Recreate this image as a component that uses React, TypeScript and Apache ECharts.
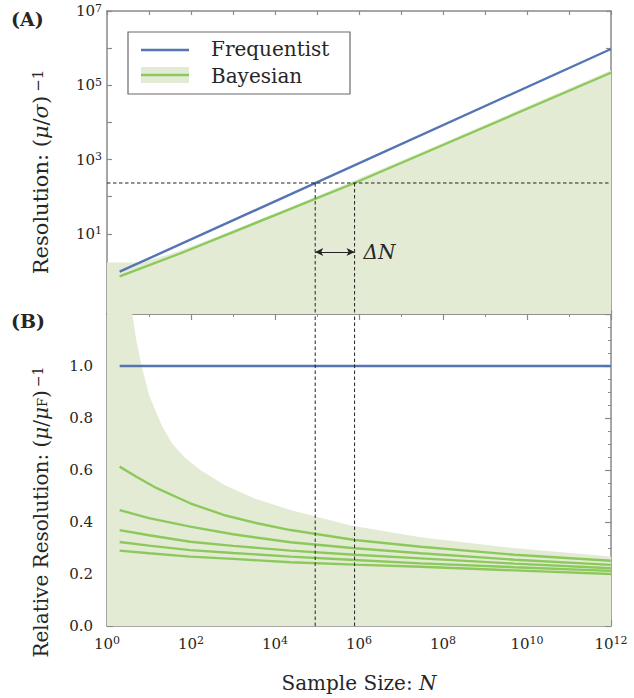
import React, { useEffect, useRef } from 'react';
import * as echarts from 'echarts';

const FONT = 'DejaVu Serif';
const BLUE = '#5474b4';
const GREEN = '#8cc95c';
const FILL = '#e4ebd4';
const FRAME = '#8a8a8a';
const INK = '#262626';

// ---------- data ----------
const xLabelExponents = [0, 2, 4, 6, 8, 10, 12];
const topYLabelExponents = [1, 3, 5, 7];
const topYMin = 0.069;
const topYMax = 1e7;

// Panel A
const freqTopN = [2, 1e12];
const freqTopRes = [0.95, 9.46e5];
const bayesTopN = [2, 55, 7.85e5, 1e12];
const bayesTopRes = [0.71, 2.94, 233, 2.17e5];
const fillTopN = [1, 5, 6.7, 14, 35, 166, 287, 2.33e4, 2.95e7, 1e12];
const fillTopRes = [1.68, 1.68, 1.78, 2.16, 2.92, 5.52, 7.16, 51.8, 1537, 2.53e5];
const thresholdRes = 233;
const crossN = [9.06e4, 7.85e5];
const arrowRes = 3.25;

// Panel B
const freqRelN = [2, 1e12];
const freqRelVal = [1, 1];
const fillRelN = [1, 2, 4.02, 5.01, 6.73, 10, 14.0, 19.95, 35.0, 70.8, 166, 631, 3162, 2.33e4, 6.31e5, 2.95e7, 3.16e9, 1e12];
const fillRelVal = [2.5, 1.7, 1.196, 1.098, 0.997, 0.889, 0.831, 0.773, 0.703, 0.648, 0.6, 0.542, 0.491, 0.446, 0.387, 0.341, 0.303, 0.267];
const bayesRel1N = [2, 5, 15.3, 95.5, 597, 3740, 2.33e4, 7.94e5, 2.95e7, 5.01e9, 1e12];
const bayesRel1 = [0.613, 0.574, 0.53, 0.472, 0.427, 0.395, 0.369, 0.331, 0.305, 0.274, 0.251];
const bayesRelN = [2, 10, 95.5, 1000, 2.33e4, 7.94e5, 2.95e7, 5.01e9, 1e12];
const bayesRel2 = [0.446, 0.415, 0.382, 0.353, 0.322, 0.299, 0.28, 0.255, 0.235];
const bayesRel3 = [0.369, 0.349, 0.324, 0.308, 0.29, 0.274, 0.26, 0.24, 0.222];
const bayesRel4 = [0.323, 0.309, 0.292, 0.281, 0.267, 0.254, 0.241, 0.226, 0.212];
const bayesRel5 = [0.29, 0.28, 0.267, 0.258, 0.245, 0.236, 0.228, 0.214, 0.2];
const relYMax = 1.2;

// ---------- helpers ----------
const L = Math.log10;
const logPairs = (ns: number[], vs: number[]) => ns.map((n, i) => [L(n), L(vs[i])]);
const relPairs = (ns: number[], vs: number[]) => ns.map((n, i) => [L(n), vs[i]]);

const tickRich = {
  b: { fontFamily: FONT, fontSize: 15, color: INK },
  s: { fontFamily: FONT, fontSize: 11, color: INK, verticalAlign: 'top', padding: [0, 0, 6, 0] },
};

const axisLine = { show: true, onZero: false, lineStyle: { color: FRAME, width: 1.5 } };
const tick = (len = 5) => ({ show: true, inside: true, length: len, lineStyle: { color: FRAME, width: 1.2 } });
const minor = (n: number) => ({ show: true, splitNumber: n, length: 3, lineStyle: { color: FRAME, width: 1 } });
const noSplit = { show: false };

const lineSeries = (name: string, data: number[][], xi: number, yi: number, color: string, width: number, z: number, extra: any = {}) => ({
  name,
  type: 'line',
  xAxisIndex: xi,
  yAxisIndex: yi,
  data,
  symbol: 'none',
  showSymbol: false,
  silent: true,
  z,
  emphasis: { disabled: true },
  lineStyle: { color, width },
  ...extra,
});

const dashStyle = { color: '#222', width: 1, type: [3.5, 2.5] };

function buildOption(): any {
  const th = L(thresholdRes);
  const yMinTop = L(topYMin);
  const xTop = {
    type: 'value', gridIndex: 0, min: 0, max: 12, interval: 1,
    axisLine, axisTick: tick(4), axisLabel: { show: false }, splitLine: noSplit,
  };
  const yTop = {
    type: 'value', gridIndex: 0, min: yMinTop, max: L(topYMax), splitNumber: 8, minInterval: 1, maxInterval: 1,
    axisLine, axisTick: tick(5), splitLine: noSplit,
  };
  const xBot = {
    type: 'value', gridIndex: 1, min: 0, max: 12, interval: 2,
    axisLine, axisTick: tick(6), minorTick: minor(2), splitLine: noSplit, minorSplitLine: noSplit,
  };
  const yBot = {
    type: 'value', gridIndex: 1, min: 0, max: relYMax, interval: 0.2,
    axisLine, axisTick: tick(6), minorTick: minor(4), splitLine: noSplit, minorSplitLine: noSplit,
  };

  return {
    animation: false,
    backgroundColor: '#ffffff',
    textStyle: { fontFamily: FONT },
    grid: [
      { left: 107, top: 11, width: 504, height: 303, containLabel: false, outerBoundsMode: 'none' },
      { left: 107, top: 314, width: 504, height: 312, containLabel: false, outerBoundsMode: 'none' },
    ],
    xAxis: [
      { ...xTop, position: 'bottom' },
      { ...xTop, position: 'top' },
      {
        ...xBot, position: 'bottom',
        axisLabel: {
          show: true, margin: 9, fontFamily: FONT, fontSize: 15,
          formatter: (v: number) => {
            const k = Math.round(v);
            return xLabelExponents.includes(k) ? `{b|10}{s|${k}}` : '';
          },
          rich: tickRich,
        },
        name: 'Sample Size: {i|N}',
        nameLocation: 'middle',
        nameGap: 47,
        nameTextStyle: {
          fontFamily: FONT, fontSize: 20, color: INK,
          rich: { i: { fontFamily: FONT, fontSize: 20, fontStyle: 'italic', color: INK } },
        },
      },
      { ...xBot, position: 'top', axisLabel: { show: false } },
    ],
    yAxis: [
      {
        ...yTop, position: 'left',
        axisLabel: {
          show: true, margin: 5, fontFamily: FONT, fontSize: 15,
          formatter: (v: number) => {
            const k = Math.round(v);
            if (Math.abs(v - k) > 1e-6 || !topYLabelExponents.includes(k)) return '';
            return `{b|10}{s|${k}}`;
          },
          rich: tickRich,
        },
      },
      { ...yTop, position: 'right', axisLabel: { show: false } },
      {
        ...yBot, position: 'left',
        axisLabel: {
          show: true, margin: 14, fontFamily: FONT, fontSize: 15, color: INK,
          formatter: (v: number) => (v > 1.05 ? '' : v.toFixed(1)),
        },
      },
      { ...yBot, position: 'right', axisLabel: { show: false } },
    ],
    series: [
      // Panel A
      lineSeries('Bayesian region', logPairs(fillTopN, fillTopRes), 0, 0, FILL, 0, 1, {
        lineStyle: { width: 0, opacity: 0 },
        areaStyle: { color: FILL, opacity: 1, origin: 'start' },
      }),
      lineSeries('Frequentist', logPairs(freqTopN, freqTopRes), 0, 0, BLUE, 2.4, 3),
      lineSeries('Bayesian', logPairs(bayesTopN, bayesTopRes), 0, 0, GREEN, 2.4, 3),
      lineSeries('threshold', [[0, th], [12, th]], 0, 0, '#222', 1, 4, {
        lineStyle: dashStyle,
        markLine: {
          silent: true,
          animation: false,
          symbol: ['arrow', 'arrow'],
          symbolSize: [6, 8],
          lineStyle: { type: 'solid', color: '#222', width: 1 },
          emphasis: { disabled: true },
          label: {
            show: true, position: 'end', distance: 9, formatter: 'ΔN',
            fontFamily: FONT, fontStyle: 'italic', fontSize: 20, color: INK,
          },
          data: [[{ coord: [L(crossN[0]), L(arrowRes)] }, { coord: [L(crossN[1]), L(arrowRes)] }]],
        },
      }),
      lineSeries('cross1 A', [[L(crossN[0]), th], [L(crossN[0]), yMinTop]], 0, 0, '#222', 1, 4, { lineStyle: dashStyle }),
      lineSeries('cross2 A', [[L(crossN[1]), th], [L(crossN[1]), yMinTop]], 0, 0, '#222', 1, 4, { lineStyle: dashStyle }),
      // Panel B
      lineSeries('Bayesian region B', relPairs(fillRelN, fillRelVal), 2, 2, FILL, 0, 1, {
        lineStyle: { width: 0, opacity: 0 },
        areaStyle: { color: FILL, opacity: 1, origin: 'start' },
        clip: true,
      }),
      lineSeries('Frequentist B', relPairs(freqRelN, freqRelVal), 2, 2, BLUE, 2.4, 3),
      lineSeries('Bayesian B1', relPairs(bayesRel1N, bayesRel1), 2, 2, GREEN, 2.4, 3),
      lineSeries('Bayesian B2', relPairs(bayesRelN, bayesRel2), 2, 2, GREEN, 2.4, 3),
      lineSeries('Bayesian B3', relPairs(bayesRelN, bayesRel3), 2, 2, GREEN, 2.4, 3),
      lineSeries('Bayesian B4', relPairs(bayesRelN, bayesRel4), 2, 2, GREEN, 2.4, 3),
      lineSeries('Bayesian B5', relPairs(bayesRelN, bayesRel5), 2, 2, GREEN, 2.4, 3),
      lineSeries('cross1 B', [[L(crossN[0]), 0], [L(crossN[0]), relYMax]], 2, 2, '#222', 1, 4, { lineStyle: dashStyle }),
      lineSeries('cross2 B', [[L(crossN[1]), 0], [L(crossN[1]), relYMax]], 2, 2, '#222', 1, 4, { lineStyle: dashStyle }),
    ],
    graphic: [
      // panel labels
      { type: 'text', x: 11, y: 9, style: { text: '(A)', fontFamily: FONT, fontSize: 19, fontWeight: 'bold', fill: INK, verticalAlign: 'top' } },
      { type: 'text', x: 11, y: 311, style: { text: '(B)', fontFamily: FONT, fontSize: 19, fontWeight: 'bold', fill: INK, verticalAlign: 'top' } },
      // y axis titles
      {
        type: 'text', x: 42, y: 172, rotation: Math.PI / 2,
        style: {
          text: '{r|Resolution: (}{i|μ}{r|/}{i|σ}{r|)}{p|−1}',
          align: 'center', verticalAlign: 'middle', fill: INK, fontFamily: FONT,
          rich: {
            r: { fontFamily: FONT, fontSize: 21, fill: INK, padding: [0, 0, 3, 0] },
            i: { fontFamily: FONT, fontSize: 21, fontStyle: 'italic', fill: INK, padding: [0, 0, 3, 0] },
            p: { fontFamily: FONT, fontSize: 15, fill: INK, verticalAlign: 'top', padding: [0, 0, 0, 4] },
          },
        },
      },
      {
        type: 'text', x: 42, y: 512, rotation: Math.PI / 2,
        style: {
          text: '{r|Relative Resolution: (}{i|μ}{r|/}{i|μ}{f|F}{r|)}{p|−1}',
          align: 'center', verticalAlign: 'middle', fill: INK, fontFamily: FONT,
          rich: {
            r: { fontFamily: FONT, fontSize: 20, fill: INK, padding: [0, 0, 3, 0] },
            i: { fontFamily: FONT, fontSize: 20, fontStyle: 'italic', fill: INK, padding: [0, 0, 3, 0] },
            f: { fontFamily: FONT, fontSize: 13, fill: INK },
            p: { fontFamily: FONT, fontSize: 14, fill: INK, verticalAlign: 'top', padding: [0, 0, 0, 3] },
          },
        },
      },
      // legend
      { type: 'rect', shape: { x: 128, y: 32, width: 222, height: 62 }, style: { fill: '#ffffff', stroke: '#6a6a6a', lineWidth: 1.2 }, z: 10 },
      { type: 'line', shape: { x1: 141, y1: 50, x2: 189, y2: 50 }, style: { stroke: BLUE, lineWidth: 2.4 }, z: 11 },
      { type: 'rect', shape: { x: 141, y: 67, width: 48, height: 16 }, style: { fill: FILL }, z: 11 },
      { type: 'line', shape: { x1: 141, y1: 75, x2: 189, y2: 75 }, style: { stroke: GREEN, lineWidth: 2.4 }, z: 12 },
      { type: 'text', x: 211, y: 49, style: { text: 'Frequentist', fontFamily: FONT, fontSize: 20, fill: INK, verticalAlign: 'middle' }, z: 12 },
      { type: 'text', x: 211, y: 76, style: { text: 'Bayesian', fontFamily: FONT, fontSize: 20, fill: INK, verticalAlign: 'middle' }, z: 12 },
    ],
  };
}

export default function App() {
  const ref = useRef<HTMLDivElement>(null);
  useEffect(() => {
    if (!ref.current) return;
    const chart = echarts.init(ref.current, undefined, { renderer: 'svg' });
    chart.setOption(buildOption());
    return () => chart.dispose();
  }, []);
  return <div ref={ref} style={{ position: 'fixed', left: 0, top: 0, width: 634, height: 698, background: '#fff' }} />;
}
